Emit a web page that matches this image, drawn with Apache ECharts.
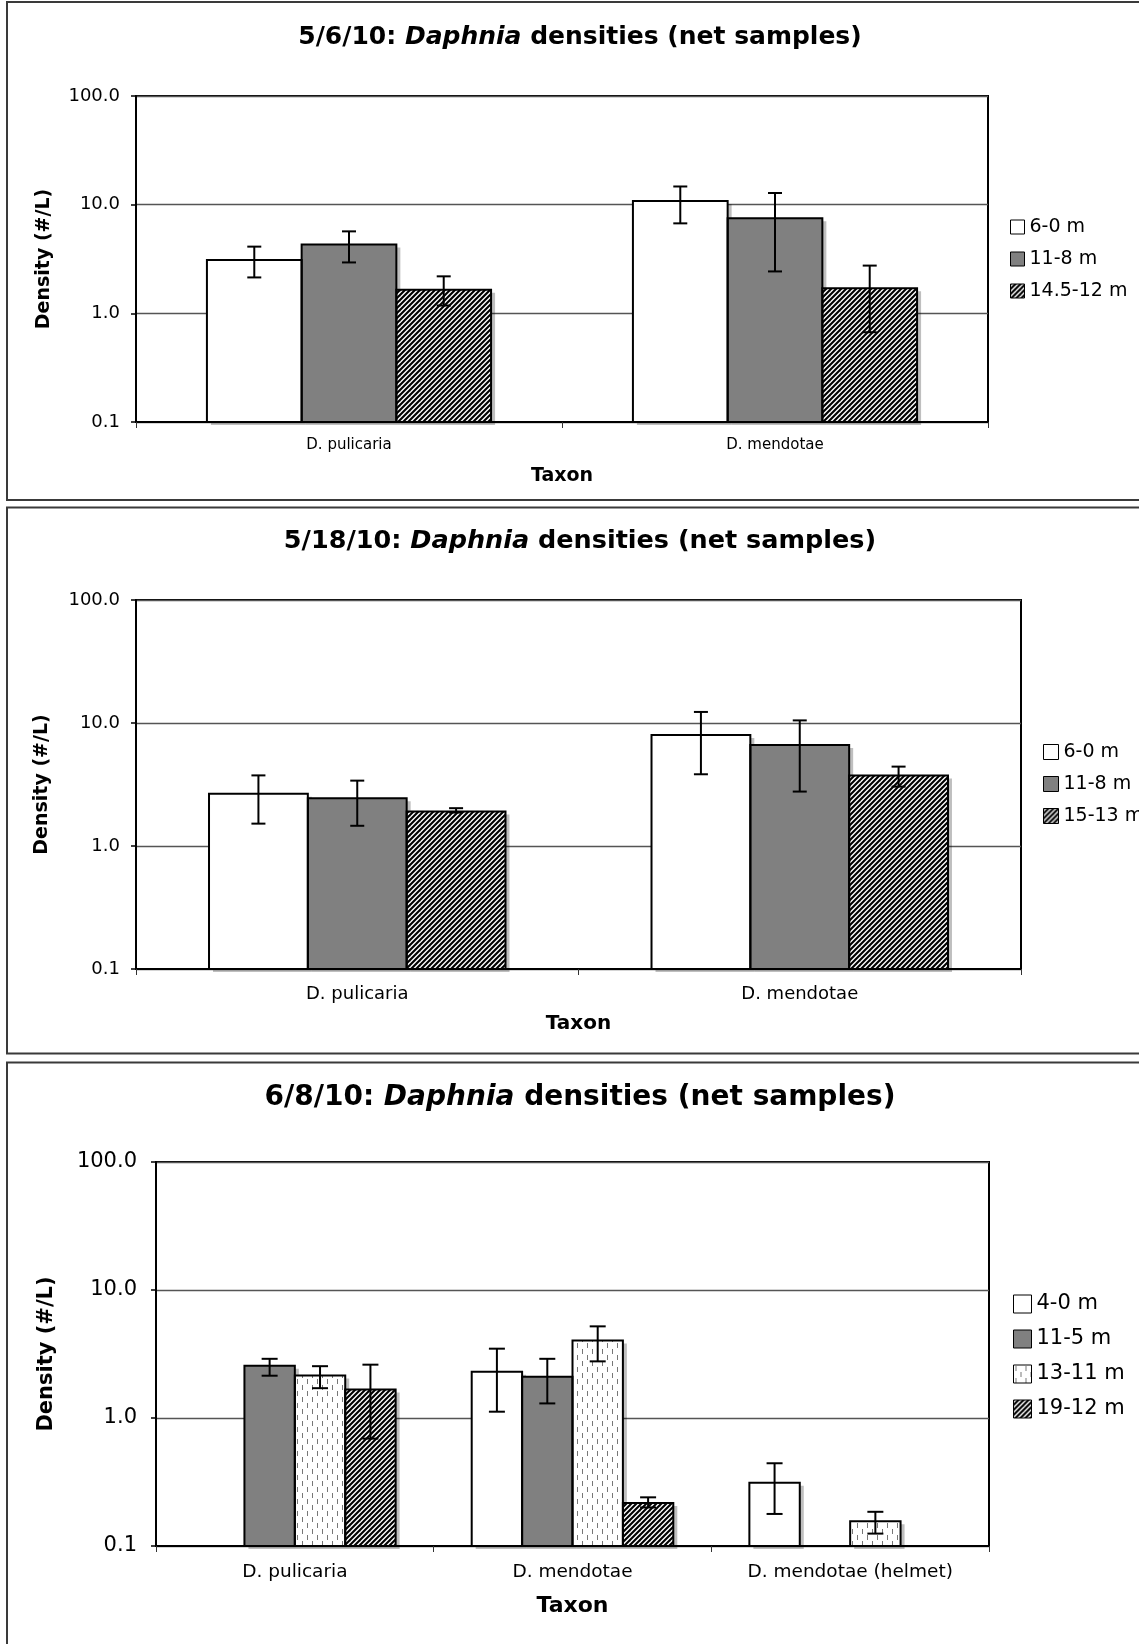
<!DOCTYPE html>
<html>
<head>
<meta charset="utf-8">
<title>Daphnia densities (net samples)</title>
<script src="https://cdn.jsdelivr.net/npm/echarts@6.0.0/dist/echarts.min.js"></script>
<style>
html, body { margin: 0; padding: 0; background: #fff; overflow: hidden; }
.panel { position: absolute; left: 0; width: 1160px; }
</style>
</head>
<body>
<div id="c1" class="panel" style="top:0;height:505px"></div>
<div id="c2" class="panel" style="top:505px;height:555px"></div>
<div id="c3" class="panel" style="top:1060px;height:584px"></div>
<script>
// categories
const taxaTwo = ['D. pulicaria', 'D. mendotae'];
const taxaThree = ['D. pulicaria', 'D. mendotae', 'D. mendotae (helmet)'];

// 5/6/10
const may6Depths = ['6-0 m', '11-8 m', '14.5-12 m'];
const may6Mean = [[3.1, 10.8], [4.29, 7.48], [1.65, 1.70]];
const may6Low = [[2.14, 6.73], [2.94, 2.43], [1.18, 0.67]];
const may6High = [[4.11, 14.7], [5.68, 12.8], [2.19, 2.75]];

// 5/18/10
const may18Depths = ['6-0 m', '11-8 m', '15-13 m'];
const may18Mean = [[2.66, 7.98], [2.44, 6.62], [1.91, 3.75]];
const may18Low = [[1.52, 3.83], [1.46, 2.77], [1.87, 3.04]];
const may18High = [[3.75, 12.3], [3.40, 10.5], [2.03, 4.42]];

// 6/8/10
const jun8Depths = ['4-0 m', '11-5 m', '13-11 m', '19-12 m'];
const jun8Mean = [[null, 2.30, 0.312], [2.56, 2.10, null], [2.15, 4.04, 0.156], [1.67, 0.217, null]];
const jun8Low = [[null, 1.12, 0.178], [2.14, 1.30, null], [1.71, 2.77, 0.125], [0.69, 0.20, null]];
const jun8High = [[null, 3.48, 0.443], [2.90, 2.90, null], [2.54, 5.20, 0.185], [2.61, 0.240, null]];

const FONT = 'DejaVu Sans';

// fills
function hatch() {
  const c = document.createElement('canvas');
  c.width = 10; c.height = 10;
  const g = c.getContext('2d');
  g.fillStyle = '#fff'; g.fillRect(0, 0, 10, 10);
  g.strokeStyle = '#000'; g.lineWidth = 2.1;
  for (let k = -10; k <= 30; k += 5) {
    g.beginPath(); g.moveTo(-5, k + 5); g.lineTo(k + 5, -5); g.stroke();
  }
  return { image: c, repeat: 'repeat' };
}
function dashes() {
  const c = document.createElement('canvas');
  c.width = 10; c.height = 12;
  const g = c.getContext('2d');
  g.fillStyle = '#fff'; g.fillRect(0, 0, 10, 12);
  g.fillStyle = '#777';
  g.fillRect(2, 1, 1, 5);
  g.fillRect(7, 7, 1, 5);
  return { image: c, repeat: 'repeat' };
}
const fills = { white: '#ffffff', gray: '#808080', hatch: hatch(), dash: dashes() };

function makeChart(id, cfg) {
  const n = cfg.depths.length;
  const series = [];
  cfg.depths.forEach(function (name, i) {
    series.push({
      name: name,
      type: 'bar',
      data: cfg.mean[i],
      barGap: '0%',
      barCategoryGap: (cfg.gap * 100) + '%',
      itemStyle: {
        color: fills[cfg.fill[i]],
        borderWidth: 0,
        shadowColor: 'rgba(0,0,0,0.25)',
        shadowOffsetX: 4,
        shadowOffsetY: 3,
        shadowBlur: 0
      }
    });
  });
  // bar outlines + error bars
  cfg.depths.forEach(function (name, i) {
    const pts = [];
    cfg.mean[i].forEach(function (v, j) {
      if (v != null) pts.push([j, v, cfg.low[i][j], cfg.high[i][j]]);
    });
    series.push({
      type: 'custom',
      name: name + ' SE',
      data: pts,
      z: 10,
      renderItem: function (params, api) {
        const j = api.value(0);
        const band = api.size([1, 0], [j, 1])[0];
        const bw = band * (1 - cfg.gap) / n;
        const top = api.coord([j, api.value(1)]);
        const base = api.coord([j, 0.1]);
        const lo = api.coord([j, api.value(2)]);
        const hi = api.coord([j, api.value(3)]);
        const x = top[0] + (i - (n - 1) / 2) * bw;
        const h = cfg.cap / 2;
        const st = { stroke: '#000', lineWidth: 2 };
        return {
          type: 'group',
          children: [
            { type: 'rect', shape: { x: x - bw / 2, y: top[1], width: bw, height: base[1] - top[1] },
              style: { fill: 'none', stroke: '#000', lineWidth: 2 } },
            { type: 'line', shape: { x1: x, y1: lo[1], x2: x, y2: hi[1] }, style: st },
            { type: 'line', shape: { x1: x - h, y1: lo[1], x2: x + h, y2: lo[1] }, style: st },
            { type: 'line', shape: { x1: x - h, y1: hi[1], x2: x + h, y2: hi[1] }, style: st }
          ]
        };
      }
    });
  });

  const option = {
    animation: false,
    title: {
      text: '{n|' + cfg.date + ': }{i|Daphnia}{n| densities (net samples)}',
      left: 'center',
      top: cfg.titleTop,
      textStyle: {
        rich: {
          n: { fontFamily: FONT, fontWeight: 'bold', fontSize: cfg.titleSize, color: '#000' },
          i: { fontFamily: FONT, fontWeight: 'bold', fontStyle: 'italic', fontSize: cfg.titleSize, color: '#000' }
        }
      }
    },
    graphic: [{
      type: 'rect',
      shape: { x: 7, y: cfg.frameY, width: 1300, height: cfg.frameH },
      style: { fill: 'none', stroke: '#3a3a3a', lineWidth: 2 },
      silent: true
    }],
    legend: {
      orient: 'vertical',
      left: cfg.legendLeft - 5,
      top: cfg.legendTop - 5,
      icon: 'rect',
      itemWidth: cfg.box,
      itemHeight: cfg.box,
      itemGap: cfg.legendGap,
      selectedMode: false,
      data: cfg.depths,
      itemStyle: { borderColor: '#000', borderWidth: 1, shadowColor: 'rgba(0,0,0,0)', shadowOffsetX: 0, shadowOffsetY: 0 },
      textStyle: { fontFamily: FONT, fontSize: cfg.legendSize, lineHeight: cfg.legendLine, color: '#000' }
    },
    grid: {
      left: cfg.grid[0], top: cfg.grid[1], right: cfg.grid[2], height: cfg.grid[3],
      show: true, borderColor: '#000', borderWidth: 2
    },
    xAxis: {
      type: 'category',
      data: cfg.taxa,
      name: 'Taxon',
      nameLocation: 'middle',
      nameGap: cfg.xNameGap,
      nameTextStyle: { fontFamily: FONT, fontWeight: 'bold', fontSize: cfg.taxonSize, color: '#000' },
      axisLine: { lineStyle: { color: '#000', width: 2 } },
      axisTick: { show: true, length: 6, lineStyle: { color: '#333', width: 1 } },
      axisLabel: { fontFamily: FONT, fontSize: cfg.xLabelSize, color: '#000', margin: cfg.xLabelMargin }
    },
    yAxis: {
      type: 'log',
      logBase: 10,
      min: 0.1,
      max: 100,
      startValue: 0.1,
      name: 'Density (#/L)',
      nameLocation: 'middle',
      nameGap: cfg.yNameGap,
      nameTextStyle: { fontFamily: FONT, fontWeight: 'bold', fontSize: cfg.nameSize, color: '#000' },
      axisLine: { show: true, lineStyle: { color: '#000', width: 2 } },
      axisTick: { show: true, length: 5, lineStyle: { color: '#000', width: 1.5 } },
      minorTick: { show: false },
      axisLabel: {
        fontFamily: FONT, fontSize: cfg.yLabelSize, color: '#000', margin: cfg.yLabelMargin,
        formatter: function (v) { return Number(v).toFixed(1); }
      },
      splitLine: { show: true, lineStyle: { color: '#555', width: 1.3 } }
    },
    series: series
  };
  echarts.init(document.getElementById(id)).setOption(option);
}

makeChart('c1', {
  date: '5/6/10', taxa: taxaTwo, depths: may6Depths, mean: may6Mean, low: may6Low, high: may6High,
  fill: ['white', 'gray', 'hatch'], gap: 0.333, cap: 14,
  grid: [136, 96, 172, 326], frameY: 2, frameH: 498,
  titleTop: 20, titleSize: 25,
  legendLeft: 1010, legendTop: 217, legendGap: 12, box: 14, legendSize: 19, legendLine: 20,
  xNameGap: 45, yNameGap: 82, nameSize: 19, taxonSize: 19, xLabelSize: 15, xLabelMargin: 16,
  yLabelSize: 18, yLabelMargin: 16
});

makeChart('c2', {
  date: '5/18/10', taxa: taxaTwo, depths: may18Depths, mean: may18Mean, low: may18Low, high: may18High,
  fill: ['white', 'gray', 'hatch'], gap: 0.33, cap: 14,
  grid: [136, 95, 139, 369], frameY: 2.6, frameH: 546,
  titleTop: 18, titleSize: 25.5,
  legendLeft: 1043, legendTop: 237, legendGap: 12, box: 15, legendSize: 19, legendLine: 20,
  xNameGap: 45, yNameGap: 84, nameSize: 19, taxonSize: 20, xLabelSize: 18, xLabelMargin: 16,
  yLabelSize: 18, yLabelMargin: 16
});

makeChart('c3', {
  date: '6/8/10', taxa: taxaThree, depths: jun8Depths, mean: jun8Mean, low: jun8Low, high: jun8High,
  fill: ['white', 'gray', 'dash', 'hatch'], gap: 0.274, cap: 16,
  grid: [156, 102, 171, 384], frameY: 2.5, frameH: 700,
  titleTop: 19, titleSize: 28,
  legendLeft: 1013, legendTop: 233, legendGap: 13, box: 18, legendSize: 21, legendLine: 22,
  xNameGap: 49, yNameGap: 99, nameSize: 21, taxonSize: 22, xLabelSize: 18.5, xLabelMargin: 17,
  yLabelSize: 21, yLabelMargin: 19
});
</script>
</body>
</html>
